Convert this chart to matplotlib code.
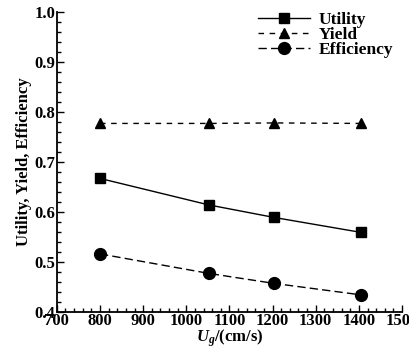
import matplotlib
matplotlib.use("Agg")
import matplotlib.pyplot as plt
from matplotlib.ticker import MultipleLocator

x = [800, 1052, 1203, 1405]
utility = [0.667, 0.614, 0.589, 0.559]
yield_ = [0.777, 0.777, 0.778, 0.777]
efficiency = [0.516, 0.477, 0.457, 0.434]

plt.rcParams['font.family'] = ['Liberation Serif', 'DejaVu Serif']
plt.rcParams['font.weight'] = 'bold'
plt.rcParams['mathtext.fontset'] = 'custom'
plt.rcParams['mathtext.rm'] = 'Liberation Serif:bold'
plt.rcParams['mathtext.it'] = 'Liberation Serif:bold:italic'
plt.rcParams['mathtext.bf'] = 'Liberation Serif:bold'

fig = plt.figure(figsize=(4.09, 3.52), dpi=100)
ax = fig.add_axes([0.139, 0.114, 0.844, 0.852])

ax.plot(x, utility, '-', color='black', lw=1, marker='s', ms=6.5, label='Utility')
ax.plot(x, yield_, color='black', lw=1, ls=(0, (4, 4)), marker='^', ms=6.5, label='Yield')
ax.plot(x, efficiency, color='black', lw=1, ls=(0, (6, 3)), marker='o', ms=8.5, label='Efficiency')

ax.set_xlim(700, 1500)
ax.set_ylim(0.4, 1.0)
ax.xaxis.set_major_locator(MultipleLocator(100))
ax.xaxis.set_minor_locator(MultipleLocator(20))
ax.yaxis.set_minor_locator(MultipleLocator(0.02))
ax.set_yticks([0.4, 0.5, 0.6, 0.7, 0.8, 0.9, 1.0])
ax.set_yticklabels(['0.4', '0.5', '0.6', '0.7', '0.8', '0.9', '1.0'])
ax.tick_params(which='both', direction='in', labelsize=12, width=1)
ax.tick_params(which='major', length=5, pad=1)
ax.tick_params(which='minor', length=3)
for lab in ax.get_xticklabels() + ax.get_yticklabels():
    lab.set_fontweight('bold')
for s in ['top', 'right']:
    ax.spines[s].set_visible(False)
for s in ['left', 'bottom']:
    ax.spines[s].set_linewidth(1.3)

ax.set_xlabel(r'$U_g$/(cm/s)', fontsize=12, fontweight='bold', labelpad=-1)
ax.set_ylabel('Utility, Yield, Efficiency', fontsize=12, fontweight='bold', labelpad=2)

leg = ax.legend(loc='upper right', bbox_to_anchor=(1.0, 1.03), frameon=False,
                prop={'size': 12.5, 'weight': 'bold'},
                handlelength=3.0, labelspacing=-0.05, borderaxespad=0.1, handletextpad=0.5)

fig.savefig('out.png', dpi=100)
